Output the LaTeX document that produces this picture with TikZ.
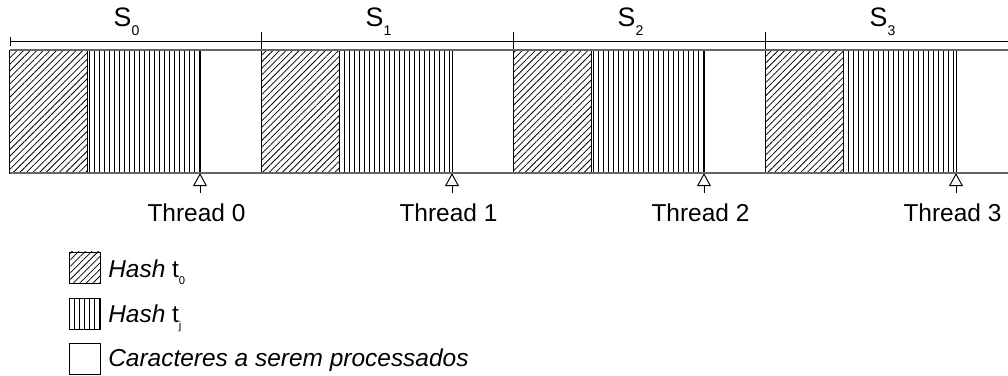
\documentclass[tikz,border=0pt]{standalone}
\usepackage{fontspec}
\setmainfont{Liberation Sans}
\usetikzlibrary{arrows.meta,patterns.meta}
\tikzset{
  >={Triangle[open,length=3.3mm,width=3.5mm]},
}
\tikzstyle{every node}=[font=\fontsize{17.4}{20}\selectfont,inner sep=0pt]
\tikzstyle{rim}=[draw=black!60,line width=1pt]
\tikzstyle{hasha}=[draw,line width=.7pt,pattern={Lines[angle=45,distance=3.3pt,line width=.55pt]}]
\tikzstyle{hashb}=[draw,line width=.7pt,pattern={Lines[angle=90,distance=3.55pt,line width=.6pt]}]
\tikzstyle{keybox}=[draw,line width=.7pt,minimum width=7.75mm,minimum height=7.75mm]
\tikzstyle{segtick}=[line width=1.4pt]
\newcommand{\segsub}[1]{\raisebox{-6.4pt}{\fontsize{10}{11}\selectfont#1}}
\newcommand{\keysub}[1]{\raisebox{-5pt}{\fontsize{8}{9}\selectfont#1}}

\begin{document}
\begin{tikzpicture}[x=.25mm,y=-.25mm]
    \useasboundingbox (0,0) rectangle (1008,376);
    % cota sobre os segmentos
    \draw[line width=.7pt] (10,41.5)--(1008,41.5);
    \draw[line width=.7pt] (10,37)--(10,46);
    \foreach \i in {0,...,3}{
      \pgfmathsetmacro{\s}{9.5+252*\i}
      \draw[hasha] (\s,50) rectangle +(77.5,123);
      \draw[hashb] (\s+77.5,50) rectangle +(113,123);
      \ifnum\i>0 \draw[segtick] (\s,32)--(\s,49); \fi
      \node[anchor=base,font=\fontsize{19}{22}\selectfont] (s\i) at (\s+117,27) {S\segsub{\i}};
      \node[anchor=base] (t\i) at (\s+187,222) {Thread \i};
      \coordinate (tip\i) at (\s+190.5,173);
      \coordinate (foot\i) at (\s+190.5,193);
      \draw[->,line width=.7pt] (foot\i)--(tip\i);
    }
    \draw[rim] (9.5,50)--(1008,50);
    \draw[rim] (9.5,173)--(1008,173);
    % legenda
    \node[keybox,pattern={Lines[angle=45,distance=3.3pt,line width=.55pt]}] (ka) at (85,267.5) {};
    \node[keybox,pattern={Lines[angle=90,distance=3.55pt,line width=.6pt]}] (kb) at (85,314) {};
    \node[keybox] (kc) at (85,359) {};
    \node[anchor=base west] (la) at (108,277) {\textit{Hash} t\keysub{0}};
    \node[anchor=base west] (lb) at (108,322) {\textit{Hash} t\keysub{j}};
    \node[anchor=base west] (lc) at (108,366) {\textit{Caracteres a serem processados}};
\end{tikzpicture}
\end{document}
